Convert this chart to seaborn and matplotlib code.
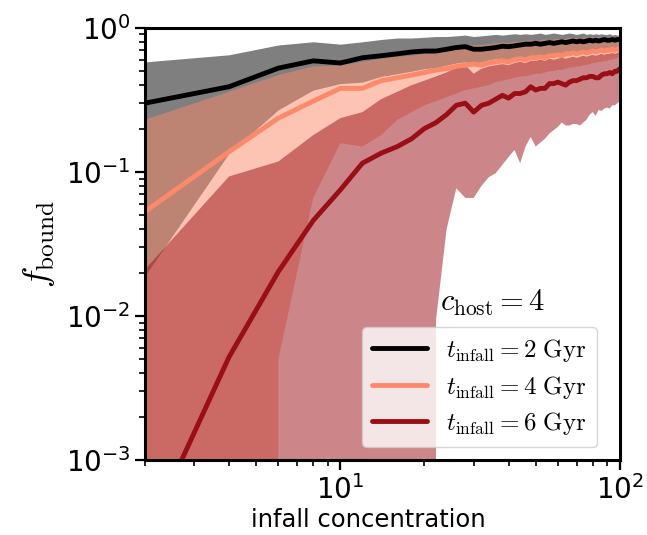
import numpy as np
import pandas as pd
import matplotlib
matplotlib.use("Agg")
import matplotlib.pyplot as plt
import seaborn as sns

# ---------------- data ----------------
c_infall = list(range(2, 101, 2))

med_2 = [0.30, 0.39, 0.525, 0.59, 0.57, 0.62, 0.64, 0.66, 0.68, 0.69,
         0.69, 0.71, 0.73, 0.74, 0.71, 0.71, 0.72, 0.73, 0.745, 0.74,
         0.75, 0.76, 0.77, 0.77, 0.78, 0.77, 0.78, 0.79, 0.78, 0.79,
         0.80, 0.79, 0.80, 0.81, 0.80, 0.81, 0.80, 0.81, 0.82, 0.81,
         0.82, 0.81, 0.82, 0.83, 0.82, 0.82, 0.83, 0.82, 0.83, 0.83]
hi_2 = [0.58, 0.65, 0.76, 0.80, 0.77, 0.80, 0.83, 0.85, 0.85, 0.86,
        0.87, 0.87, 0.88, 0.89, 0.87, 0.88, 0.89, 0.90, 0.89, 0.90,
        0.91, 0.90, 0.91, 0.90, 0.91, 0.92, 0.90, 0.91, 0.92, 0.91,
        0.90, 0.91, 0.92, 0.91, 0.90, 0.91, 0.92, 0.90, 0.91, 0.90,
        0.91, 0.90, 0.91, 0.90, 0.90, 0.91, 0.89, 0.90, 0.89, 0.89]
lo_2 = [0.019, 0.135, 0.27, 0.37, 0.41, 0.42, 0.46, 0.48, 0.50, 0.52,
        0.53, 0.55, 0.57, 0.58, 0.56, 0.58, 0.60, 0.61, 0.61, 0.60,
        0.62, 0.63, 0.62, 0.64, 0.64, 0.65, 0.64, 0.66, 0.66, 0.67,
        0.66, 0.68, 0.68, 0.69, 0.68, 0.69, 0.70, 0.69, 0.70, 0.71,
        0.70, 0.71, 0.72, 0.71, 0.72, 0.72, 0.73, 0.72, 0.73, 0.74]

med_4 = [0.053, 0.138, 0.236, 0.31, 0.38, 0.38, 0.43, 0.45, 0.47, 0.49,
         0.51, 0.52, 0.54, 0.55, 0.56, 0.55, 0.57, 0.58, 0.59, 0.58,
         0.60, 0.61, 0.60, 0.62, 0.62, 0.63, 0.62, 0.64, 0.64, 0.65,
         0.64, 0.66, 0.66, 0.67, 0.66, 0.67, 0.68, 0.67, 0.68, 0.69,
         0.68, 0.69, 0.70, 0.69, 0.70, 0.70, 0.71, 0.70, 0.71, 0.72]
hi_4 = [0.23, 0.36, 0.47, 0.54, 0.55, 0.58, 0.61, 0.63, 0.64, 0.66,
        0.67, 0.69, 0.71, 0.75, 0.76, 0.76, 0.77, 0.78, 0.79, 0.78,
        0.80, 0.80, 0.81, 0.82, 0.81, 0.82, 0.83, 0.82, 0.83, 0.84,
        0.83, 0.84, 0.85, 0.84, 0.85, 0.84, 0.85, 0.86, 0.85, 0.86,
        0.85, 0.86, 0.86, 0.85, 0.86, 0.87, 0.86, 0.86, 0.87, 0.86]
lo_4 = [0.0, 0.0, 0.005, 0.066, 0.158, 0.15, 0.18, 0.23, 0.26, 0.29,
        0.31, 0.33, 0.35, 0.37, 0.38, 0.39, 0.40, 0.42, 0.43, 0.44,
        0.45, 0.46, 0.46, 0.47, 0.48, 0.48, 0.49, 0.50, 0.50, 0.51,
        0.51, 0.52, 0.53, 0.53, 0.54, 0.54, 0.55, 0.55, 0.56, 0.57,
        0.57, 0.58, 0.58, 0.59, 0.59, 0.60, 0.60, 0.61, 0.62, 0.62]

med_6 = [0.00028, 0.0052, 0.0203, 0.046, 0.075, 0.115, 0.135, 0.15, 0.17, 0.20,
         0.22, 0.25, 0.29, 0.30, 0.26, 0.29, 0.30, 0.32, 0.34, 0.325,
         0.35, 0.35, 0.36, 0.39, 0.37, 0.38, 0.38, 0.41, 0.41, 0.42,
         0.41, 0.40, 0.42, 0.43, 0.43, 0.44, 0.45, 0.45, 0.46, 0.46,
         0.45, 0.45, 0.47, 0.48, 0.48, 0.49, 0.48, 0.50, 0.50, 0.52]
hi_6 = [0.021, 0.093, 0.118, 0.18, 0.236, 0.26, 0.32, 0.36, 0.40, 0.43,
        0.46, 0.49, 0.53, 0.55, 0.48, 0.52, 0.54, 0.55, 0.56, 0.55,
        0.57, 0.58, 0.57, 0.59, 0.59, 0.60, 0.59, 0.61, 0.60, 0.61,
        0.62, 0.61, 0.62, 0.63, 0.62, 0.63, 0.64, 0.63, 0.64, 0.65,
        0.64, 0.65, 0.66, 0.65, 0.66, 0.66, 0.67, 0.66, 0.67, 0.68]
lo_6 = [0.0, 0.0, 0.0, 0.0, 0.0, 0.0, 0.0, 0.0, 0.0, 0.0,
        0.0094, 0.040, 0.077, 0.066, 0.066, 0.080, 0.092, 0.098, 0.112, 0.127,
        0.142, 0.115, 0.150, 0.175, 0.150, 0.160, 0.170, 0.185, 0.195, 0.205,
        0.22, 0.21, 0.21, 0.215, 0.215, 0.21, 0.22, 0.23, 0.25, 0.26,
        0.245, 0.27, 0.265, 0.275, 0.28, 0.275, 0.29, 0.29, 0.30, 0.31]

labels = [r"$t_{\rm infall} = 2\ {\rm Gyr}$",
          r"$t_{\rm infall} = 4\ {\rm Gyr}$",
          r"$t_{\rm infall} = 6\ {\rm Gyr}$"]
colors = ["#000000", "#FC8A6A", "#9A0F15"]

# ---------------- plot ----------------
sns.set_style("ticks")
plt.rcParams["mathtext.fontset"] = "cm"
plt.rcParams["font.family"] = ["DejaVu Sans"]
plt.rcParams["text.color"] = "black"
plt.rcParams["axes.labelcolor"] = "black"
plt.rcParams["xtick.color"] = "black"
plt.rcParams["ytick.color"] = "black"

fig = plt.figure(figsize=(6.47, 5.35), dpi=100)
ax = fig.add_axes([0.224, 0.140, 0.734, 0.808])
ax.set_xscale("log")
ax.set_yscale("log")

meds = [med_2, med_4, med_6]
his = [hi_2, hi_4, hi_6]
los = [lo_2, lo_4, lo_6]

for lo, hi, c in zip(los, his, colors):
    ax.fill_between(c_infall, lo, hi, color=c, alpha=0.5, linewidth=0)

for med, c, lab in zip(meds, colors, labels):
    df = pd.DataFrame({"c": c_infall, "f": med})
    sns.lineplot(data=df, x="c", y="f", color=c, lw=3.5, label=lab, ax=ax,
                 estimator=None)

ax.set_xlim(2, 100)
ax.set_ylim(1e-3, 1)

ax.set_xlabel("infall concentration", fontsize=17.5, color="black")
ax.xaxis.set_label_coords(0.47, -0.11)
ax.set_ylabel(r"$f_{\rm bound}$", fontsize=26, color="black", labelpad=6)

ax.tick_params(axis="both", which="major", labelsize=20, length=7, width=1.6,
               direction="out", colors="black")
ax.tick_params(axis="both", which="minor", length=4, width=1.2, direction="out",
               colors="black")
for sp in ax.spines.values():
    sp.set_visible(True)
    sp.set_linewidth(2.2)
    sp.set_color("black")

ax.text(0.621, 0.328, r"$c_{\rm host} = 4$", transform=ax.transAxes,
        fontsize=22, ha="left", va="bottom", color="black")

leg = ax.legend(loc="lower right", bbox_to_anchor=(0.952, 0.030),
                fontsize=18, handlelength=2.2,
                borderaxespad=0.0, framealpha=0.8, handletextpad=0.75,
                labelspacing=0.38, borderpad=0.4)
for t in leg.get_texts():
    t.set_color("black")

fig.savefig("out.png", dpi=100)
